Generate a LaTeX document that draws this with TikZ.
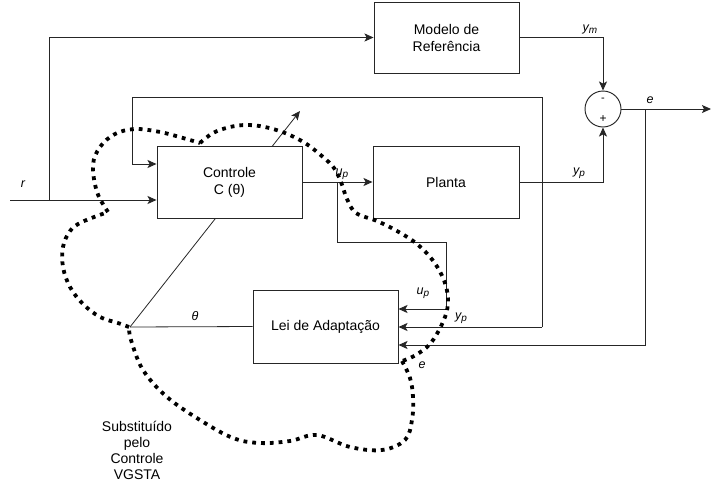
\documentclass[tikz,border=0pt]{standalone}
\usepackage{fontspec}
\setmainfont{Liberation Sans}
\usetikzlibrary{arrows.meta}
\newcommand{\lsub}[1]{\raisebox{-0.35ex}{\fontsize{10}{10}\selectfont\itshape #1}}
\begin{document}
\begin{tikzpicture}[x=1pt,y=-1pt,
  line/.style={draw=black!85, line width=0.95pt},
  arr/.style={line, -{Stealth[length=9pt,width=8pt,inset=2pt]}},
  blk/.style={draw=black!85, line width=0.95pt, fill=white, align=center,
    font=\fontsize{14}{17}\selectfont, inner sep=0pt},
  lab/.style={font=\fontsize{12.5}{14}\selectfont\itshape, inner sep=0pt},
  cloud/.style={draw=black, line width=3.8pt, dash pattern=on 3.8pt off 5pt}]
\useasboundingbox (0,0) rectangle (713,488);
% diagonal adjust arrow (drawn under the controller box)
\coordinate (th) at (130,327);
\coordinate (tip) at (300,111);
\draw[arr, line width=0.8pt] (th) -- (tip);
% blocks
\node[blk, minimum width=145pt, minimum height=71pt] (mod) at (446.5,37.5) {Modelo de\\Referência};
\node[blk, minimum width=145pt, minimum height=72pt] (ctl) at (229.5,182) {Controle\\C (θ)};
\node[blk, minimum width=146pt, minimum height=72pt] (pla) at (446,182) {Planta};
\node[blk, minimum width=145pt, minimum height=73pt] (lei) at (325.5,326.5) {Lei de Adaptação};
\node[draw=black!85, line width=0.95pt, circle, minimum size=36pt, inner sep=0pt] (sum) at (603,109) {};
\node[font=\fontsize{11}{12}\selectfont, inner sep=0pt] (minus) at (603,100) {-};
\node[font=\fontsize{12}{12}\selectfont, inner sep=0pt] (plus) at (603,119) {+};
% coordinates
\coordinate (rin) at (10,200);
\coordinate (rj) at (49,200);
\coordinate (out) at (711,109);
\coordinate (ej) at (645,109);
\coordinate (uj) at (337,182);
\coordinate (ub) at (446,242);
\coordinate (fb) at (542,327);
\coordinate (ftop) at (132,97);
% connectors
\draw[arr] (rin) -- (rin -| ctl.west);
\draw[arr] (rj) |- (mod.west);
\draw[arr] (mod.east) -| (sum.north);
\draw[arr] (pla.east) -| (sum.south);
\draw[arr] (sum.east) -- (out);
\draw[arr] (ej) |- (lei.east |- 0,345);
\draw[arr] (ctl.east) -- (pla.west);
\draw[arr] (uj) |- (ub) |- (lei.east |- 0,309);
\draw[arr] (fb) -- (lei.east |- fb);
\draw[arr] (fb) |- (ftop) |- (ctl.west |- 0,164);
\draw[line, line width=0.8pt] (lei.west) -- (th);
% labels
\node[lab] (lr) at (23,184) {r};
\node[lab] (lym) at (590,29) {y\lsub{m}};
\node[lab] (lyp) at (579,173) {y\lsub{p}};
\node[lab] (le) at (650,100) {e};
\node[lab] (lup) at (342,174) {u\lsub{p}};
\node[lab] (lth) at (195,316) {θ};
\node[lab] (lup2) at (423,293) {u\lsub{p}};
\node[lab] (lyp2) at (461,318) {y\lsub{p}};
\node[lab] (le2) at (422,365) {e};
\node[align=center, font=\fontsize{14}{16}\selectfont, inner sep=0pt] (sub) at (137,450.5) {Substituído\\pelo\\Controle\\VGSTA};
% dotted cloud
\draw[cloud] plot[smooth, tension=0.6] coordinates {(200,143) (213,133) (230,127) (247,125) (265,127) (285,133) (305,143) (323,157) (334,168) (341,182) (347,199) (356,213) (377,221) (397,231) (417,244) (434,262) (445,283) (448,303) (443,322) (430,344) (414,356) (402,361)};
\draw[cloud] plot[smooth, tension=0.6] coordinates {(402,361) (410,378) (413,397) (412,420) (405,440) (382,450) (350,447) (317,435) (290,441) (260,443) (233,438) (200,420) (167,397) (143,370) (131,340) (129,327)};
\draw[cloud] plot[smooth, tension=0.6] coordinates {(129,327) (118,323) (100,317) (83,304) (70,287) (63,267) (63,247) (70,231) (82,222) (108,212)};
\draw[cloud] plot[smooth, tension=0.6] coordinates {(108,212) (97,192) (93,165) (100,147) (115,134) (135,129) (160,132) (183,138) (200,143)};
\end{tikzpicture}
\end{document}
